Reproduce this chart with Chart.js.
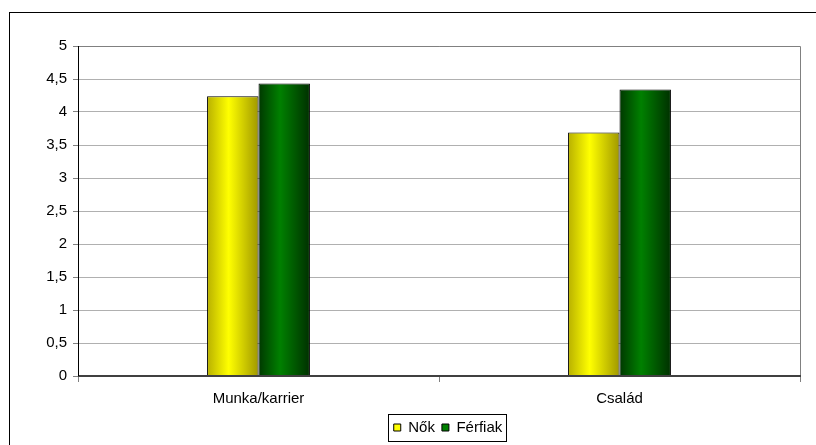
<!DOCTYPE html>
<html>
<head>
<meta charset="utf-8">
<script src="https://cdn.jsdelivr.net/npm/chart.js@4"></script>
<style>
  html, body { margin: 0; padding: 0; background: #fff; }
  #wrap { position: relative; width: 816px; height: 445px; }
</style>
</head>
<body>
<div id="wrap"><canvas id="chart" width="816" height="445"></canvas></div>
<script>
/* ------------ DATA ------------ */
const categories = ['Munka/karrier', 'Család'];
const nokValues = [4.24, 3.69];
const ferfiakValues = [4.43, 4.34];
const seriesNames = ['Nők', 'Férfiak'];

/* ------------ COLOURS ------------ */
const shades = {
  yellow: { edgeL: '#b8b000', mid: '#ffff00', edgeR: '#a09800', flat: '#ffff00' },
  green:  { edgeL: '#003800', mid: '#008000', edgeR: '#003000', flat: '#008000' }
};

const legendShift = 48; // legend sits right of centre

// horizontal cylinder-ish gradient, rebuilt per bar once positions are known
const barGradients = {
  id: 'barGradients',
  beforeDatasetsDraw(chart) {
    const ctx = chart.ctx;
    chart.data.datasets.forEach((ds, di) => {
      const s = shades[ds.shade];
      chart.getDatasetMeta(di).data.forEach(bar => {
        const l = bar.x - bar.width / 2, r = bar.x + bar.width / 2;
        const g = ctx.createLinearGradient(l, 0, r, 0);
        g.addColorStop(0, s.edgeL);
        g.addColorStop(0.42, s.mid);
        g.addColorStop(1, s.edgeR);
        bar.options.backgroundColor = g;
      });
    });
  }
};

// outer frame, plot border and legend box
const frames = {
  id: 'frames',
  afterLayout(chart) {
    const lg = chart.legend;
    lg.left += legendShift;
    lg.right += legendShift;
    lg.legendHitBoxes.forEach(b => { b.left += legendShift; });
  },
  beforeDraw(chart) {
    const ctx = chart.ctx;
    ctx.save();
    ctx.strokeStyle = '#000';
    ctx.lineWidth = 1;
    ctx.strokeRect(9.5, 12.5, 900, 500);
    ctx.restore();
  },
  afterDatasetsDraw(chart) {
    const { ctx, chartArea: a } = chart;
    ctx.save();
    ctx.lineWidth = 1;
    ctx.strokeStyle = '#808080';
    ctx.beginPath();
    ctx.moveTo(a.left, a.top + 0.5); ctx.lineTo(a.right + 0.5, a.top + 0.5);
    ctx.lineTo(a.right + 0.5, a.bottom);
    ctx.stroke();
    ctx.strokeStyle = '#404040';
    ctx.lineWidth = 2;
    ctx.beginPath();
    ctx.moveTo(a.left, a.bottom); ctx.lineTo(a.right + 1, a.bottom);
    ctx.stroke();
    ctx.strokeStyle = '#000';
    ctx.lineWidth = 1;
    ctx.beginPath();
    ctx.moveTo(a.left + 0.5, a.top); ctx.lineTo(a.left + 0.5, a.bottom);
    ctx.stroke();
    ctx.restore();
  },
  afterDraw(chart) {
    const boxes = chart.legend.legendHitBoxes;
    if (!boxes.length) return;
    const first = boxes[0], last = boxes[boxes.length - 1];
    const ctx = chart.ctx;
    ctx.save();
    ctx.strokeStyle = '#000';
    ctx.lineWidth = 1;
    const x0 = Math.round(first.left) - 5.5, x1 = Math.round(last.left + last.width) + 4.5;
    const y0 = Math.round(first.top) - 5.5, y1 = Math.round(first.top + first.height) + 6.5;
    ctx.strokeRect(x0, y0, x1 - x0, y1 - y0);
    ctx.restore();
  }
};

/* ------------ CHART ------------ */
const font = { family: 'Liberation Sans, Arial, sans-serif', size: 15 };

new Chart(document.getElementById('chart'), {
  type: 'bar',
  data: {
    labels: categories,
    datasets: [
      { label: seriesNames[0], data: nokValues, shade: 'yellow', borderColor: '#000', borderWidth: 1, borderSkipped: 'bottom' },
      { label: seriesNames[1], data: ferfiakValues, shade: 'green', borderColor: '#000', borderWidth: 1, borderSkipped: 'bottom' }
    ]
  },
  options: {
    responsive: false,
    animation: false,
    events: [],
    // scriptable so every bar gets its own options object
    backgroundColor: c => shades[c.dataset.shade].flat,
    layout: { padding: { left: 0, top: 46, right: 16, bottom: 0 } },
    datasets: { bar: { categoryPercentage: 0.285, barPercentage: 1 } },
    scales: {
      x: {
        offset: true,
        grid: { offset: true, drawOnChartArea: false, drawTicks: true, tickLength: 6, color: '#808080' },
        border: { display: false },
        ticks: { color: '#000', font, padding: 8 },
        afterFit: s => { s.height = 37; }
      },
      y: {
        min: 0, max: 5,
        grid: { color: '#b0b0b0', tickLength: 5, tickColor: '#808080' },
        border: { display: false },
        ticks: {
          stepSize: 0.5, color: '#000', font, padding: 6,
          callback: v => String(v).replace('.', ',')
        },
        afterFit: s => { s.width = 78; }
      }
    },
    plugins: {
      tooltip: { enabled: false },
      legend: {
        position: 'bottom',
        labels: {
          color: '#000', font: { family: font.family, size: 15 }, boxWidth: 7, boxHeight: 7, padding: 7,
          generateLabels: chart => chart.data.datasets.map((ds, i) => ({
            text: ds.label,
            fillStyle: shades[ds.shade].flat,
            strokeStyle: '#000',
            lineWidth: 1,
            datasetIndex: i
          }))
        }
      }
    }
  },
  plugins: [barGradients, frames]
});
</script>
</body>
</html>
